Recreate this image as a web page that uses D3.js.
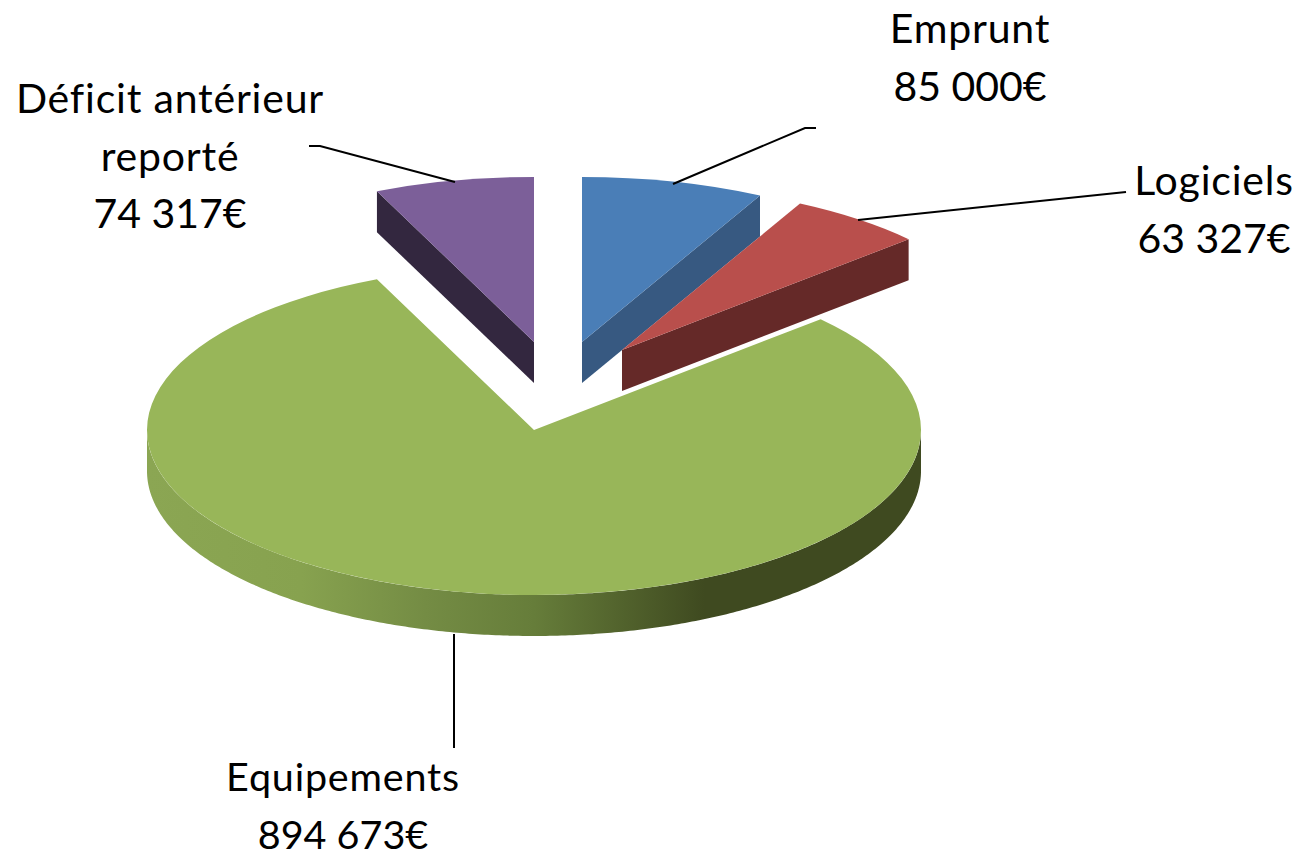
<!DOCTYPE html>
<html>
<head>
<meta charset="utf-8">
<script src="https://cdnjs.cloudflare.com/ajax/libs/d3/7.8.5/d3.min.js"></script>
<style>
  html, body { margin: 0; padding: 0; background: #fff; }
  svg { display: block; }
  text { font-family: Lato, "Open Sans", sans-serif; fill: #000; text-anchor: middle; }
</style>
</head>
<body>
<div id="chart"></div>
<script>
const categories = ['Emprunt', 'Logiciels', 'Equipements', 'Déficit antérieur|reporté']
const values = [85000, 63327, 894673, 74317]
const topColors = ['#4a7eb7', '#b94f4c', '#98b659', '#7c5f99']
const wallColors = ['#375981', '#652928', null, '#33273f']

const width = 1312
const height = 851
const rx = 387
const ry = 165
const depth = 41
const cx = 534
const cy = 430
const drawOrder = [2, 3, 0, 1]

// exploded slices
const offsets = [[48, -88], [88, -80], [0, 0], [0, -88]]
const labelPos = [[970, 43], [1214, 195], [343, 791], [170, 113]]
const labelSizes = [41, 41, 39.5, 41]
const lineHeight = 57.5
const leaders = [
  [[673, 184], [805, 128], [816, 128]],
  [[858, 220], [1126, 192]],
  [[454, 634], [454, 748]],
  [[455, 182], [320, 146], [309, 146]]
]

const svg = d3.select('#chart').append('svg')
    .attr('width', width)
    .attr('height', height)

const defs = svg.append('defs')
// userSpaceOnUse means the coordinates of the translated slice group, so centred on 0
const grad = defs.append('linearGradient')
    .attr('id', 'wallGreen')
    .attr('gradientUnits', 'userSpaceOnUse')
    .attr('x1', -rx).attr('x2', rx)
    .attr('y1', 0).attr('y2', 0)
grad.selectAll('stop')
    .data([[0, '#8ba653'], [0.2, '#87a24f'], [0.36, '#748c44'], [0.5, '#667d3a'], [0.72, '#3f4a20'], [1, '#3f4a20']])
    .enter().append('stop')
    .attr('offset', d => d[0])
    .attr('stop-color', d => d[1])

const pie = d3.pie().sort(null)
const slices = pie(values)

// pie is drawn flat, then squashed into the tilted ellipse
const arc = d3.arc().innerRadius(0).outerRadius(rx)
const squash = ry / rx
const rim = a => [rx * Math.sin(a), -ry * Math.cos(a)]

const line = d3.line()

// outer wall between two angles: along the top rim, back along the bottom rim
const outerWall = (a0, a1) => {
  const angles = d3.range(a0, a1, 0.01).concat([a1])
  const top = angles.map(rim)
  const bottom = angles.slice().reverse().map(a => {
    const p = rim(a)
    return [p[0], p[1] + depth]
  })
  return line(top.concat(bottom)) + 'Z'
}

// radial cut face from the rim to the apex
const radialWall = (a) => {
  const p = rim(a)
  return line([[0, 0], p, [p[0], p[1] + depth], [0, depth]]) + 'Z'
}

drawOrder.forEach(i => {
  const s = slices[i]
  const g = svg.append('g')
      .attr('transform', `translate(${cx + offsets[i][0]},${cy + offsets[i][1]})`)

  if (i === 2) {
    // only the front half of the big slice shows its wall
    g.append('path')
        .attr('d', outerWall(Math.PI / 2, Math.PI * 1.5))
        .attr('fill', 'url(#wallGreen)')
  } else {
    // Emprunt and Logiciels show their closing cut, Déficit its opening one
    g.append('path')
        .attr('d', radialWall(i === 3 ? s.startAngle : s.endAngle))
        .attr('fill', wallColors[i])
  }

  g.append('path')
      .attr('transform', `scale(1,${squash})`)
      .attr('d', arc(s))
      .attr('fill', topColors[i])
})

const fmt = d3.formatLocale({ thousands: ' ', grouping: [3], decimal: ',', currency: ['', '€'] }).format('$,')

svg.selectAll('.leader')
    .data(leaders)
    .enter().append('path')
    .attr('class', 'leader')
    .attr('d', d => line(d))
    .attr('fill', 'none')
    .attr('stroke', '#000')
    .attr('stroke-width', 2)

categories.forEach((name, i) => {
  const names = name.split('|')
  const lines = names.concat([fmt(values[i])])
  const t = svg.append('text')
      .attr('font-size', labelSizes[i])
  lines.forEach((l, j) => {
    t.append('tspan')
        .attr('x', labelPos[i][0])
        .attr('y', labelPos[i][1] + j * lineHeight)
        .attr('letter-spacing', j < names.length ? 0.8 : 0) // Lato runs narrower than the original face on words
        .text(l)
  })
})
</script>
</body>
</html>
